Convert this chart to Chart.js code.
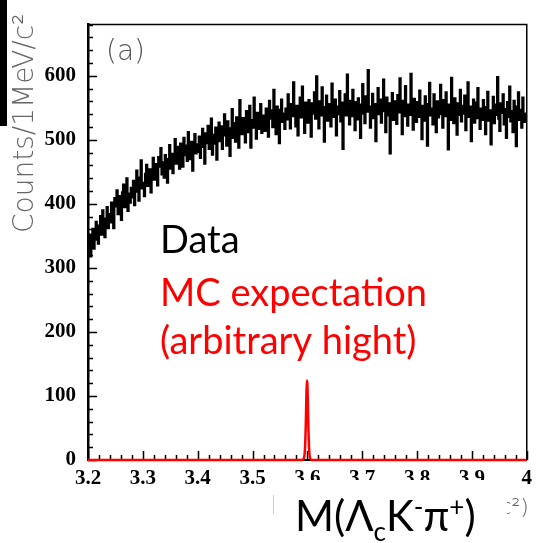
<!DOCTYPE html>
<html lang="en">
<head>
<meta charset="UTF-8">
<title>M(Lambda_c K- pi+) spectrum</title>
<script src="https://cdn.jsdelivr.net/npm/chart.js"></script>
<style>
  html, body { margin: 0; padding: 0; background: #fff; }
  #wrap { position: relative; width: 538px; height: 543px; }
</style>
</head>
<body>
<div id="wrap"><canvas id="massChart"></canvas></div>
<script>
  // 2 MeV bins from 3.2 GeV, values in counts per 1 MeV/c^2
  const binStart = 3.2;
  const binWidth = 0.002;
  const dataCounts = [
    335, 352, 318, 347, 361, 330, 344, 372, 349, 338, 366, 381, 352, 390, 365, 348, 377, 395, 362, 384,
    371, 402, 388, 362, 409, 396, 421, 384, 412, 399, 375, 418, 430, 395, 407, 440, 389, 416, 402, 425,
    410, 436, 398, 427, 452, 419, 405, 441, 468, 424, 433, 412, 447, 461, 428, 439, 454, 418, 446, 472,
    438, 462, 451, 429, 473, 458, 487, 446, 465, 441, 476, 459, 433, 470, 492, 455, 478, 448, 466, 501,
    463, 489, 472, 455, 494, 480, 458, 503, 476, 491, 467, 512, 484, 470, 497, 452, 486, 509, 479, 493,
    481, 505, 472, 498, 517, 489, 463, 510, 495, 522, 486, 501, 533, 477, 508, 494, 519, 469, 503, 527,
    498, 521, 486, 514, 540, 507, 491, 529, 512, 475, 518, 548, 503, 526, 497, 535, 514, 488, 562, 520,
    509, 534, 521, 496, 545, 527, 512, 553, 488, 531, 519, 566, 525, 502, 542, 517, 535, 556, 511, 529,
    538, 514, 549, 527, 505, 561, 533, 546, 520, 578, 531, 509, 552, 540, 495, 547, 563, 528, 541, 517,
    549, 532, 571, 541, 518, 556, 537, 590, 544, 521, 553, 507, 548, 566, 535, 583, 542, 511, 558, 539,
    527, 562, 548, 505, 557, 541, 574, 533, 599, 546, 518, 560, 538, 582, 551, 497, 547, 569, 530, 556,
    542, 521, 588, 549, 536, 563, 507, 552, 540, 576, 529, 558, 486, 545, 571, 538, 602, 550, 524, 561,
    537, 578, 546, 515, 559, 532, 565, 549, 503, 555, 587, 541, 526, 568, 544, 609, 552, 519, 547, 572,
    534, 556, 498, 549, 581, 540, 563, 527, 551, 594, 545, 512, 566, 538, 557, 479, 546, 573, 531, 560,
    548, 525, 570, 543, 596, 552, 509, 561, 537, 584, 547, 522, 555, 539, 603, 544, 516, 564, 541, 528,
    559, 536, 577, 542, 501, 553, 530, 568, 545, 491, 556, 589, 538, 549, 524, 571, 543, 512, 560, 535,
    551, 586, 540, 519, 562, 537, 574, 546, 485, 555, 531, 597, 543, 526, 565, 548, 508, 557, 539, 578,
    529, 553, 541, 569, 515, 547, 590, 536, 552, 498, 544, 563, 527, 558, 534, 581, 540, 517, 549, 531,
    562, 538, 509, 551, 575, 530, 546, 493, 541, 567, 526, 555, 539, 598, 533, 514, 557, 542, 571, 524,
    548, 503, 559, 536, 583, 529, 545, 512, 561, 538, 490, 552, 574, 531, 547, 519, 566, 535, 528, 541
  ];

  // MC signal shape (arbitrary height)
  const mcMass   = [3.2, 3.590, 3.592, 3.594, 3.595, 3.596, 3.597, 3.598, 3.599, 3.600, 3.601, 3.602, 3.603, 3.604, 3.606, 3.608, 4.0];
  const mcCounts = [0,   0,     1,     4,     10,    24,    52,    92,    124,   118,   84,    46,    20,    7,     1,     0,     0];

  const xMin = 3.2, xMax = 4.0, yMax = 680;

  const dataPoints = dataCounts.map((c, i) => ({ x: binStart + binWidth * (i + 0.5), y: c }));
  const mcPoints = mcMass.map((m, i) => ({ x: m, y: mcCounts[i] }));

  // inward ticks + top/right frame, like the ROOT style of the original
  const frameTicks = {
    id: 'frameTicks',
    beforeDatasetsDraw(chart) {
      const { ctx, chartArea: a, scales: { x, y } } = chart;
      ctx.save();
      ctx.strokeStyle = '#000';
      ctx.lineWidth = 1.5;
      ctx.beginPath();
      for (let v = 0; v <= yMax; v += 20) {
        const py = Math.round(y.getPixelForValue(v)) + 0.5;
        const len = v % 100 === 0 ? 9 : 5;
        ctx.moveTo(a.left, py);
        ctx.lineTo(a.left + len, py);
      }
      for (let k = 0; k <= 40; k++) {
        const px = Math.round(x.getPixelForValue(xMin + k * 0.02)) + 0.5;
        const len = k % 5 === 0 ? 9 : 5;
        ctx.moveTo(px, a.bottom);
        ctx.lineTo(px, a.bottom - len);
      }
      ctx.stroke();
      ctx.beginPath();
      ctx.moveTo(a.left, a.top);
      ctx.lineTo(a.right, a.top);
      ctx.lineTo(a.right, a.bottom);
      ctx.stroke();
      ctx.restore();
    }
  };

  const annotations = {
    id: 'annotations',
    afterDraw(chart) {
      const ctx = chart.ctx;
      ctx.save();

      // black bar at top-left edge
      ctx.fillStyle = '#000';
      ctx.fillRect(0, 0, 7, 126);

      // y axis title
      ctx.save();
      ctx.translate(33, 233);
      ctx.rotate(-Math.PI / 2);
      ctx.fillStyle = '#666';
      ctx.font = '200 28px "DejaVu Sans"';
      ctx.textBaseline = 'alphabetic';
      ctx.fillText('Counts/1MeV/c\u00B2', 0, 0);
      ctx.restore();

      // panel label
      ctx.fillStyle = '#555';
      ctx.font = '200 28px "DejaVu Sans"';
      ctx.fillText('(a)', 106, 60);

      // legend text
      ctx.font = '38px Lato';
      ctx.fillStyle = '#000';
      ctx.fillText('Data', 160, 253);
      ctx.fillStyle = '#ff0000';
      ctx.fillText('MC expectation', 160, 306);
      ctx.fillText('(arbitrary hight)', 160, 354);

      // overlaid box hiding the lower part of the axis labels
      ctx.fillStyle = '#666';
      ctx.font = '200 22px "DejaVu Sans"';
      ctx.fillText('/c\u00B2)', 492, 514);
      ctx.fillStyle = '#fff';
      ctx.fillRect(274, 480, 233, 63);
      ctx.strokeStyle = '#ccc';
      ctx.lineWidth = 1;
      ctx.beginPath();
      ctx.moveTo(273.5, 495);
      ctx.lineTo(273.5, 514);
      ctx.stroke();

      // x axis title M(Λc K- π+)
      ctx.fillStyle = '#000';
      let px = 295;
      const base = 531;
      const big = '42px Lato', small = '26px Lato';
      const parts = [
        ['M(\u039B', big, 0], ['c', small, 10], ['K', big, 0],
        ['-', small, -15], ['\u03C0', big, 0], ['+', small, -15], [')', big, 0]
      ];
      parts.forEach(([t, f, dy]) => {
        ctx.font = f;
        ctx.fillText(t, px, base + dy);
        px += ctx.measureText(t).width;
      });

      ctx.restore();
    }
  };

  const tickFont = { family: '"Liberation Serif"', size: 21, weight: 'bold' };

  new Chart(document.getElementById('massChart'), {
    type: 'line',
    data: {
      datasets: [
        {
          label: 'Data',
          data: dataPoints,
          borderColor: '#000',
          borderWidth: 2.2,
          stepped: 'middle',
          pointRadius: 0,
          fill: false,
          clip: 2
        },
        {
          label: 'MC expectation',
          data: mcPoints,
          borderColor: '#ff0000',
          borderWidth: 2.5,
          pointRadius: 0,
          cubicInterpolationMode: 'monotone',
          fill: false,
          clip: 4
        }
      ]
    },
    options: {
      animation: false,
      responsive: true,
      maintainAspectRatio: false,
      layout: { padding: { top: 6, right: 3, left: 0, bottom: 0 }, autoPadding: false },
      plugins: { legend: { display: false }, tooltip: { enabled: false } },
      scales: {
        x: {
          type: 'linear',
          min: xMin,
          max: xMax,
          grid: { display: false, drawTicks: false },
          border: { display: true, color: '#000', width: 2 },
          ticks: {
            stepSize: 0.1,
            padding: 6,
            color: '#000',
            font: tickFont,
            maxRotation: 0,
            autoSkip: false,
            callback: v => String(Number(v.toFixed(1)))
          },
          afterFit: s => { s.height = 83; }
        },
        y: {
          min: 0,
          max: yMax,
          grid: { display: false, drawTicks: false },
          border: { display: true, color: '#000', width: 2.5 },
          ticks: { stepSize: 100, padding: 12, color: '#000', font: tickFont },
          afterBuildTicks: s => { s.ticks = s.ticks.filter(t => t.value % 100 === 0); },
          afterFit: s => { s.width = 88; }
        }
      }
    },
    plugins: [frameTicks, annotations]
  });
</script>
</body>
</html>
